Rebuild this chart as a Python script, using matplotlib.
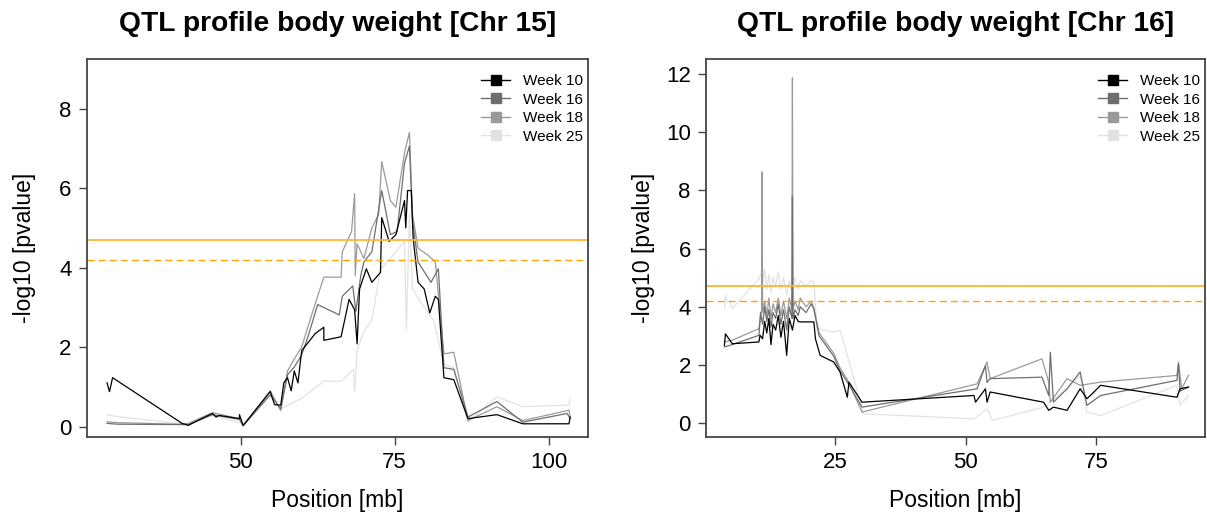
import matplotlib.pyplot as plt
from matplotlib.lines import Line2D

plt.rcParams['font.family'] = ['Liberation Sans', 'DejaVu Sans']

weeks = ["Week 10", "Week 16", "Week 18", "Week 25"]
colors = ["#000000", "#6e6e6e", "#9a9a9a", "#e2e2e2"]
thr_solid = 4.7
thr_dash = 4.2

# ---- Chr 15 (position in mb, -log10 p) ----
c15_x10 = [28.3, 28.7, 29.2, 39.8, 40.5, 41.5, 43.0, 45.4, 46.0, 46.5, 49.8, 49.8, 50.4,
           54.8, 55.5, 56.5, 57.0, 57.6, 58.2, 58.7, 59.3, 59.9, 62.1, 63.5, 63.5, 66.3,
           67.6, 68.5, 68.9, 69.3, 70.4, 71.3, 72.7, 72.9, 74.1, 75.2, 76.6, 76.8, 77.1,
           77.7, 78.0, 78.8, 79.8, 80.7, 81.6, 82.1, 83.0, 84.6, 86.9, 91.6, 95.8, 103.3, 103.5]
c15_y10 = [1.10, 0.88, 1.23, 0.15, 0.08, 0.03, 0.15, 0.33, 0.24, 0.28, 0.20, 0.30, 0.03,
           0.88, 0.55, 0.54, 1.10, 1.23, 0.90, 1.40, 1.10, 1.91, 2.34, 2.50, 2.17, 2.26,
           3.20, 2.94, 2.08, 3.46, 3.97, 3.63, 3.88, 5.26, 4.66, 4.83, 5.69, 5.00, 5.94,
           5.94, 4.74, 3.63, 3.46, 2.86, 3.28, 3.20, 1.23, 1.18, 0.20, 0.30, 0.07, 0.07, 0.24]

c15_x16 = [28.3, 30.0, 39.8, 41.5, 45.4, 49.8, 50.4, 54.8, 56.5, 57.6, 58.7, 59.9,
           61.0, 62.5, 66.0, 66.5, 68.2, 68.7, 69.5, 70.0, 71.3, 72.9, 74.3, 75.4,
           76.6, 77.4, 77.9, 78.8, 80.9, 82.1, 83.0, 84.6, 86.9, 91.6, 95.8, 103.0, 103.5]
c15_y16 = [0.08, 0.06, 0.05, 0.05, 0.30, 0.18, 0.02, 0.80, 0.45, 1.30, 1.50, 1.80,
           2.30, 3.07, 2.81, 3.28, 3.54, 2.90, 3.80, 4.14, 4.40, 5.94, 4.83, 4.91,
           6.63, 7.06, 5.17, 4.14, 3.63, 3.97, 1.48, 1.44, 0.24, 0.63, 0.11, 0.33, 0.20]

c15_x18 = [28.3, 30.0, 39.8, 41.5, 45.4, 49.8, 50.4, 54.8, 56.5, 57.6, 58.7, 59.9,
           61.5, 63.5, 66.3, 66.5, 68.0, 68.5, 68.6, 68.9, 70.0, 71.3, 72.4, 72.9, 74.3,
           75.2, 76.6, 77.4, 77.9, 78.8, 80.5, 81.6, 83.0, 84.6, 86.9, 91.6, 95.8, 103.3, 103.5]
c15_y18 = [0.12, 0.10, 0.06, 0.08, 0.35, 0.20, 0.02, 0.90, 0.40, 1.40, 1.70, 2.00,
           2.80, 3.76, 3.76, 4.40, 4.91, 5.86, 3.80, 4.60, 4.23, 5.00, 5.34, 6.67, 5.69,
           5.52, 6.89, 7.40, 5.34, 4.49, 4.30, 4.14, 1.83, 1.87, 0.15, 0.50, 0.15, 0.41, 0.25]

c15_x25 = [28.3, 30.0, 39.8, 41.5, 45.4, 49.8, 50.4, 54.8, 56.5, 59.9, 63.5, 66.3,
           68.3, 68.5, 68.9, 70.0, 71.3, 72.7, 74.3, 76.6, 76.9, 77.4, 77.9, 79.3,
           81.3, 83.0, 84.6, 86.9, 91.6, 95.8, 103.3, 103.5]
c15_y25 = [0.30, 0.25, 0.08, 0.05, 0.28, 0.10, 0.02, 0.80, 0.45, 0.71, 1.14, 1.14,
           1.44, 0.88, 1.91, 2.40, 2.68, 3.97, 4.23, 4.66, 2.43, 5.34, 3.46, 3.11,
           2.68, 1.57, 1.48, 0.11, 0.75, 0.50, 0.54, 0.71]

# ---- Chr 16 ----
c16_x10 = [3.9, 4.1, 5.4, 10.5, 10.7, 11.2, 11.6, 12.0, 12.4, 12.8, 13.2, 13.7, 14.2,
           14.7, 15.2, 15.8, 16.3, 16.9, 17.4, 18.0, 18.4, 19.5, 21.0, 21.3, 22.2, 24.8,
           26.0, 27.4, 27.7, 30.2, 51.6, 51.9, 53.8, 54.1, 54.7, 64.9, 65.9, 66.8, 69.4,
           71.9, 73.2, 74.2, 75.8, 90.4, 91.0, 92.6]
c16_y10 = [2.67, 3.07, 2.73, 2.79, 3.02, 2.90, 3.50, 3.10, 3.60, 2.70, 3.40, 3.20, 3.70,
           2.95, 3.50, 2.33, 3.60, 3.20, 3.70, 3.50, 3.48, 3.48, 3.48, 2.90, 2.33, 2.10,
           1.76, 0.89, 1.41, 0.72, 0.95, 0.72, 1.18, 0.72, 1.07, 0.72, 0.44, 0.55, 0.44,
           1.18, 0.84, 1.01, 1.30, 0.89, 1.18, 1.24]

c16_x16 = [3.9, 5.4, 10.5, 10.8, 11.2, 11.6, 12.0, 12.4, 12.8, 13.2, 13.7, 14.2, 14.7,
           15.2, 15.8, 16.3, 16.8, 16.9, 17.0, 17.4, 18.0, 18.4, 19.5, 20.5, 21.0, 22.0,
           24.8, 26.0, 27.4, 30.2, 52.2, 53.8, 54.1, 54.7, 64.6, 65.9, 66.2, 66.8, 69.4,
           71.9, 73.2, 75.8, 90.4, 90.7, 91.0, 92.6]
c16_y16 = [2.62, 2.70, 3.02, 3.80, 3.40, 4.00, 3.50, 3.90, 3.30, 3.80, 3.60, 4.10, 3.40,
           3.90, 3.20, 4.00, 3.60, 7.80, 3.60, 3.90, 3.70, 4.00, 3.80, 4.10, 3.93, 3.00,
           2.30, 1.80, 1.41, 0.55, 1.18, 1.98, 1.40, 1.53, 1.58, 0.95, 2.44, 0.72, 1.18,
           1.76, 0.61, 0.95, 1.47, 2.04, 1.10, 1.24]

c16_x18 = [3.9, 5.4, 10.5, 11.0, 11.1, 11.2, 11.6, 12.0, 12.4, 12.8, 13.2, 13.7, 14.2,
           14.7, 15.2, 15.8, 16.3, 16.8, 16.9, 17.0, 17.4, 18.0, 18.4, 19.5, 20.5, 21.0,
           22.0, 24.8, 26.0, 27.4, 30.2, 52.2, 54.1, 54.7, 64.6, 65.9, 66.2, 69.4, 71.9,
           75.8, 90.4, 90.7, 91.3, 92.6]
c16_y18 = [2.79, 2.85, 3.25, 3.90, 8.64, 3.80, 4.20, 3.70, 4.30, 3.60, 4.10, 3.80, 4.30,
           3.70, 4.20, 3.60, 4.30, 3.90, 11.87, 3.90, 4.20, 3.90, 4.30, 4.00, 4.20, 3.93,
           3.10, 2.40, 1.90, 1.50, 0.38, 1.35, 2.10, 1.53, 2.21, 1.41, 0.72, 1.53, 1.30,
           1.41, 1.64, 2.10, 1.18, 1.64]

c16_x25 = [3.9, 4.1, 4.4, 5.0, 5.4, 10.5, 11.0, 11.1, 11.2, 11.6, 12.0, 12.4, 12.8,
           13.2, 13.7, 14.2, 14.7, 15.2, 15.8, 16.3, 16.8, 17.4, 18.0, 18.4, 19.5, 20.5,
           21.0, 21.6, 24.8, 26.0, 27.4, 30.5, 51.6, 54.1, 55.1, 64.9, 69.4, 71.9, 73.2,
           75.8, 90.4, 91.0, 92.6]
c16_y25 = [3.93, 4.40, 4.16, 4.20, 3.93, 4.97, 5.20, 6.46, 4.80, 5.30, 4.60, 5.10, 4.50,
           5.00, 4.70, 5.20, 4.60, 5.00, 4.40, 4.90, 4.50, 5.00, 4.60, 4.90, 4.70, 4.90,
           4.85, 3.25, 3.13, 3.19, 2.33, 0.32, 0.15, 0.49, 0.09, 0.55, 1.18, 1.64, 0.38,
           0.26, 1.30, 0.61, 0.95]

panels = [
    ("QTL profile body weight [Chr 15]",
     [(c15_x10, c15_y10), (c15_x16, c15_y16), (c15_x18, c15_y18), (c15_x25, c15_y25)],
     (25.05, 106.4), (-0.25, 9.25), [50, 75, 100], [0, 2, 4, 6, 8]),
    ("QTL profile body weight [Chr 16]",
     [(c16_x10, c16_y10), (c16_x16, c16_y16), (c16_x18, c16_y18), (c16_x25, c16_y25)],
     (0.4, 95.8), (-0.46, 12.52), [25, 50, 75], [0, 2, 4, 6, 8, 10, 12]),
]

fig = plt.figure(figsize=(12.07, 5.17), dpi=100)
positions = [[0.0721, 0.1557, 0.4151, 0.7302], [0.585, 0.1557, 0.4135, 0.7302]]

for pos, (title, series, xlim, ylim, xt, yt) in zip(positions, panels):
    ax = fig.add_axes(pos)
    # draw lightest first so black ends on top
    for (x, y), c in reversed(list(zip(series, colors))):
        ax.plot(x, y, color=c, lw=0.9)
    ax.axhline(thr_solid, color="#FFB531", lw=1.3)
    ax.axhline(thr_dash, color="#FFA500", lw=1.0, ls=(0, (5, 3)))
    ax.set_xlim(*xlim)
    ax.set_ylim(*ylim)
    ax.set_xticks(xt)
    ax.set_yticks(yt)
    ax.tick_params(labelsize=16, length=6, width=1, color="#444444", pad=5)
    for s in ax.spines.values():
        s.set_color("#444444")
        s.set_linewidth(1.3)
    ax.set_title(title, fontsize=20.3, fontweight="bold", pad=20)
    ax.set_xlabel("Position [mb]", fontsize=16.5, labelpad=12)
    ax.set_ylabel("-log10 [pvalue]", fontsize=16.5)
    ax.yaxis.set_label_coords(-0.102, 0.5)
    handles = [Line2D([0], [0], color=c, lw=1, marker="s", markersize=7.5,
                      markeredgecolor=c) for c in colors]
    ax.legend(handles, weeks, loc="upper right", bbox_to_anchor=(0.99, 0.96),
              frameon=False, fontsize=11, handlelength=1.9, labelspacing=0.3,
              borderaxespad=0, borderpad=0, handletextpad=0.85)

fig.savefig("out.png", dpi=100)
